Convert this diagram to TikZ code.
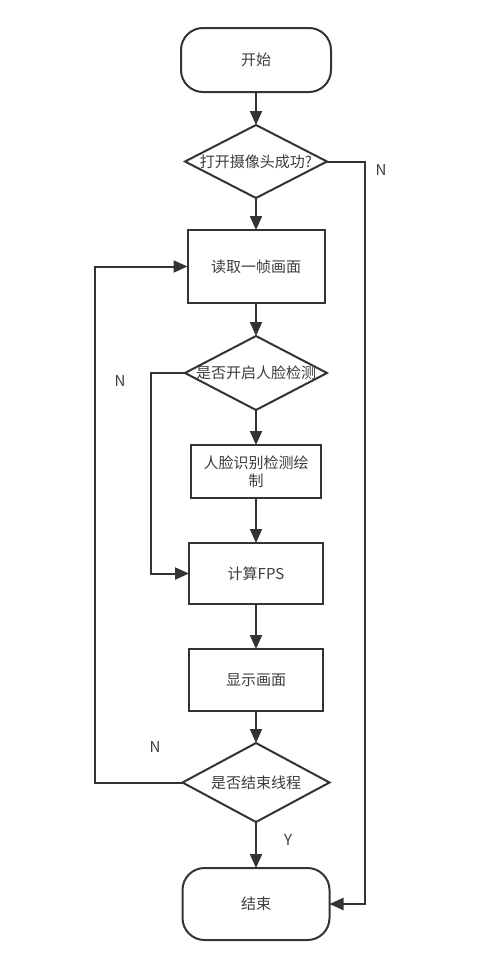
\documentclass[tikz,border=0pt]{standalone}
\usepackage{fontspec}
\setmainfont{Noto Sans CJK SC}
\usepackage{tikz}
\usetikzlibrary{positioning}
\usetikzlibrary{shapes.geometric}
\usetikzlibrary{arrows.meta}
\definecolor{linegray}{HTML}{333333}
\definecolor{textgray}{HTML}{3C3C3C}
\tikzset{
    flowfont/.style={
        font=\fontsize{15}{18}\selectfont,
        text=textgray
    },
    termnode/.style={
        flowfont,
        draw=linegray,
        line width=2pt,
        outer sep=0pt,
        rectangle,
        rounded corners=22pt,
        minimum width=150pt,
        minimum height=64pt
    },
    procnode/.style={
        flowfont,
        draw=linegray,
        line width=2pt,
        outer sep=0pt,
        rectangle,
        align=center,
        inner sep=2pt
    },
    decnode/.style={
        flowfont,
        draw=linegray,
        line width=2pt,
        outer sep=0pt,
        diamond,
        inner sep=1pt
    },
    flowarrow/.style={
        draw=linegray,
        line width=2pt,
        -{Triangle[width=12pt,length=14pt]}
    },
    branchlabel/.style={
        flowfont
    }
}
\newcommand{\dtext}[1]{\makebox[0pt]{#1}}

\begin{document}
\begin{tikzpicture}
[
    x=1pt,
    y=1pt,
    node distance=33pt
]
\useasboundingbox (0,0) rectangle (500,-969);
\node[termnode] (start) at (256,-60) {开始};
\node[decnode, minimum width=142pt, minimum height=73pt, below=33pt of start] (opencam) {\dtext{打开摄像头成功?}};
\node[procnode, minimum width=137pt, minimum height=73pt, below=32pt of opencam] (readframe) {读取一帧画面};
\node[decnode, minimum width=142pt, minimum height=74pt, below=33pt of readframe] (facedet) {\dtext{是否开启人脸检测}};
\node[procnode, minimum width=130pt, minimum height=53pt, below=35pt of facedet] (drawface) {人脸识别检测绘\\制};
\node[procnode, minimum width=134pt, minimum height=61pt, below=45pt of drawface] (calcfps) {计算FPS};
\node[procnode, minimum width=134pt, minimum height=62pt, below=45pt of calcfps] (showframe) {显示画面};
\node[decnode, minimum width=147pt, minimum height=79pt, below=32pt of showframe] (endthread) {\dtext{是否结束线程}};
\node[termnode, minimum width=147pt, minimum height=72pt, below=46pt of endthread] (finish) {结束};

\draw[flowarrow] (start) -- (opencam);
\draw[flowarrow] (opencam) -- (readframe);
\draw[flowarrow] (readframe) -- (facedet);
\draw[flowarrow] (facedet) -- (drawface);
\draw[flowarrow] (drawface) -- (calcfps);
\draw[flowarrow] (calcfps) -- (showframe);
\draw[flowarrow] (showframe) -- (endthread);
\draw[flowarrow] (endthread) -- (finish);

\draw[flowarrow] (opencam.east) -- ++(38pt,0) |- (finish.east);
\draw[flowarrow] (facedet.west) -- ++(-34pt,0) |- (calcfps.west);
\draw[flowarrow] (endthread.west) -- ++(-88pt,0) |- (readframe.west);

\node[branchlabel] (nopen) at (381,-170) {N};
\node[branchlabel] (nface) at (120,-381) {N};
\node[branchlabel] (nloop) at (155,-747) {N};
\node[branchlabel] (yend) at (288,-840) {Y};
\end{tikzpicture}
\end{document}
